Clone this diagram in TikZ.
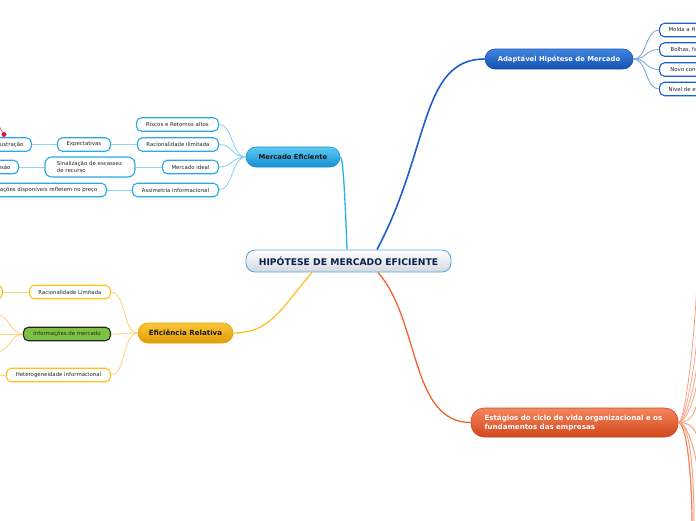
\documentclass[tikz,border=0pt]{standalone}
\usepackage{fontspec}
\newfontfamily\vf{DejaVu Sans}
\usetikzlibrary{calc}
\definecolor{txt}{HTML}{262626}
\definecolor{navy}{HTML}{0D1F4A}
\definecolor{cenB}{HTML}{5AA8E0}
\definecolor{cenBot}{HTML}{D3D9DF}
\definecolor{cyanK}{HTML}{29A9E6}
\definecolor{cyanLine}{HTML}{8ED3F2}
\definecolor{cyanMain}{HTML}{2BB0EA}
\definecolor{cyanTop}{HTML}{5CC9F2}
\definecolor{cyanBot}{HTML}{1590D2}
\definecolor{blueMain}{HTML}{1C5FCF}
\definecolor{blueTop}{HTML}{3F86E0}
\definecolor{blueBot}{HTML}{1650B0}
\definecolor{orgK}{HTML}{FFC21A}
\definecolor{orgLine}{HTML}{FFD57A}
\definecolor{orgMain}{HTML}{FFC02A}
\definecolor{orgTop}{HTML}{FAC637}
\definecolor{orgBot}{HTML}{E09C05}
\definecolor{redMain}{HTML}{F2622E}
\definecolor{redLine}{HTML}{F8A283}
\definecolor{redTop}{HTML}{F4865C}
\definecolor{redBot}{HTML}{D2461C}
\definecolor{grn}{HTML}{7CC142}
\definecolor{dotred}{HTML}{D21F3C}
\definecolor{dotline}{HTML}{E8798A}
\begin{document}
\begin{tikzpicture}[x=1pt,y=-1pt,
  kid/.style={draw=#1, line width=1.1pt, fill=white, rounded corners=5pt,
    inner xsep=7pt, inner ysep=0pt, minimum height=13.5pt, text=txt,
    font=\vf\fontsize{5.4}{6.6}\selectfont},
  mainnode/.style 2 args={draw=#2, line width=0.6pt, top color=#1, bottom color=#2,
    rounded corners=10pt, minimum height=20pt, inner sep=0pt,
    font=\vf\bfseries\fontsize{6.8}{8}\selectfont},
  sub/.style={line width=0.9pt}
]
\useasboundingbox (0,0) rectangle (696,520);

% central
\node[draw=cenB, line width=0.9pt, top color=white, bottom color=cenBot,
  rounded corners=9pt, minimum width=205pt, minimum height=22pt, inner sep=0pt,
  font=\vf\bfseries\fontsize{9.2}{10}\selectfont, text=navy] (c) at (348.5,261) {HIPÓTESE DE MERCADO EFICIENTE};

% main branches
\node[mainnode={cyanTop}{cyanBot}, minimum width=94pt, text=black!90] (me) at (293,157) {Mercado Eficiente};
\node[mainnode={blueTop}{blueBot}, minimum width=148pt, text=white] (ad) at (559,59) {Adaptável Hipótese de Mercado};
\node[mainnode={orgTop}{orgBot}, minimum width=95pt, text=black!90, font=\vf\bfseries\fontsize{7.1}{8}\selectfont] (er) at (185.5,333) {Eficiência Relativa};
\node[mainnode={redTop}{redBot}, rounded corners=13pt, minimum width=207pt, minimum height=29pt,
  text width=180pt, align=left, inner xsep=13.5pt, text=white, font=\vf\bfseries\fontsize{7.1}{9}\selectfont]
  (es) at (574.5,422.5) {Estágios do ciclo de vida organizacional e os\\fundamentos das empresas};

% Mercado Eficiente children
\node[kid=cyanK, anchor=east, minimum width=82pt] (r1) at (219,124.5) {Riscos e Retornos altos};
\node[kid=cyanK, anchor=east, minimum width=81pt] (r2) at (219,144.5) {Racionalidade ilimitada};
\node[kid=cyanK, anchor=east, minimum width=56pt] (r3) at (219,167) {Mercado ideal};
\node[kid=cyanK, anchor=east, minimum width=86pt] (r4) at (219,190) {Assimetria informacional};
\node[kid=cyanK, anchor=east, minimum width=53pt] (ex) at (111,144.5) {Expectativas};
\node[kid=cyanK, anchor=east, inner xsep=8pt] (fr) at (32,144.5) {Frustração};
\node[kid=cyanK, anchor=east, minimum height=20pt, text width=66pt, align=left, inner xsep=12pt,
  rounded corners=7pt] (si) at (135.5,167) {Sinalização de escassez\\de recurso};
\node[kid=cyanK, anchor=east, inner xsep=8pt] (il) at (19,167) {Ilusão};
\node[kid=cyanK, anchor=east, inner xsep=9pt] (id) at (107,190) {As informações disponíveis refletem no preço};

% red dot marker
\coordinate (rd0) at (-3,123);
\node[circle, fill=dotred, inner sep=0pt, minimum size=5pt] (rd) at (4,134.5) {};
\draw[dotline, line width=1pt] (rd) -- (rd0);

% Eficiencia Relativa children
\node[kid=orgK, anchor=east, minimum width=81pt] (o1) at (111,292) {Racionalidade Limitada};
\node[kid=black!85, fill=grn, anchor=east, minimum width=87pt] (o2) at (111,334) {Informações de mercado};
\node[kid=orgK, anchor=east, minimum width=104pt] (o3) at (111,375) {Heterogeneidade informacional};
\node[kid=orgK, anchor=east, minimum width=40pt] (o0) at (3,292) {};
\coordinate (g1) at (-3,315);
\coordinate (g2) at (-3,334);
\coordinate (g3) at (-3,352);
\coordinate (h1) at (-3,375);

% Adaptavel children
\node[kid=blueMain, anchor=west, minimum width=60pt, inner xsep=9pt] (a1) at (659,30) {Molda a Hipótese};
\node[kid=blueMain, anchor=west, minimum width=60pt, inner xsep=9pt] (a2) at (659,49.5) {Bolhas, falhas};
\node[kid=blueMain, anchor=west, minimum width=60pt, inner xsep=9pt] (a3) at (659,69.5) {Novo conceito};
\node[kid=blueMain, anchor=west, minimum width=60pt, inner xsep=9pt] (a4) at (659,89) {Nível de eficiência};

% main connectors
\draw[cyanMain, line width=1.3pt] ($(c.north)+(-1.5,0)$) .. controls (345,195) and (343,157) .. (me.east);
\draw[blueMain, line width=1.6pt] ($(c.north)+(28.5,0)$) .. controls (430,150) and (420,59) .. (ad.west);
\draw[orgMain, line width=1.3pt] ($(c.south)+(-36.5,0)$) .. controls (280,310) and (270,333) .. (er.east);
\draw[redMain, line width=1.3pt] ($(c.south)+(29.5,0)$) .. controls (420,320) and (410,422.5) .. (es.west);

% sub connectors
\foreach \k in {r1,r2,r3,r4}
  \draw[cyanLine, sub] (me.west) .. controls +(-14,0) and +(14,0) .. (\k.east);
\draw[cyanLine, sub] (r2.west) -- (ex.east);
\draw[cyanLine, sub] (ex.west) -- (fr.east);
\draw[cyanLine, sub] (r3.west) -- (si.east);
\draw[cyanLine, sub] (si.west) -- (il.east);
\draw[cyanLine, sub] (r4.west) -- (id.east);

\foreach \k in {o1,o2,o3}
  \draw[orgLine, sub] (er.west) .. controls +(-15,0) and +(15,0) .. (\k.east);
\draw[orgLine, sub] (o1.west) -- (o0.east);
\foreach \g in {g1,g2,g3}
  \draw[orgLine, sub] (o2.west) .. controls +(-12,0) and +(12,0) .. (\g);
\draw[orgLine, sub] (o3.west) -- (h1);

\foreach \k in {a1,a2,a3,a4}
  \draw[blueMain!55, sub] (ad.east) .. controls +(14,0) and +(-14,0) .. (\k.west);

% Estagios fan (children off the page)
\coordinate (e1) at (697,272);
\coordinate (e2) at (699,305);
\coordinate (e3) at (699,335);
\coordinate (e4) at (699,355);
\coordinate (e5) at (699,380);
\coordinate (e6) at (699,455);
\coordinate (e7) at (699,490);
\coordinate (e8) at (692,524);
\coordinate (e9) at (694,524);
\foreach \e in {e1,e2,e3,e4,e5}
  \draw[redLine, line width=0.8pt] (es.east) .. controls +(8,0) and +(0,40) .. (\e);
\foreach \e in {e6,e7}
  \draw[redLine, line width=1pt] (es.east) .. controls +(10,0) and +(0,-30) .. (\e);
\draw[redMain!80, line width=1.2pt] (es.east) .. controls +(8,0) and +(0,-50) .. (e8);
\draw[redLine, line width=1pt] (es.east) .. controls +(12,0) and +(0,-50) .. (e9);
\end{tikzpicture}
\end{document}
